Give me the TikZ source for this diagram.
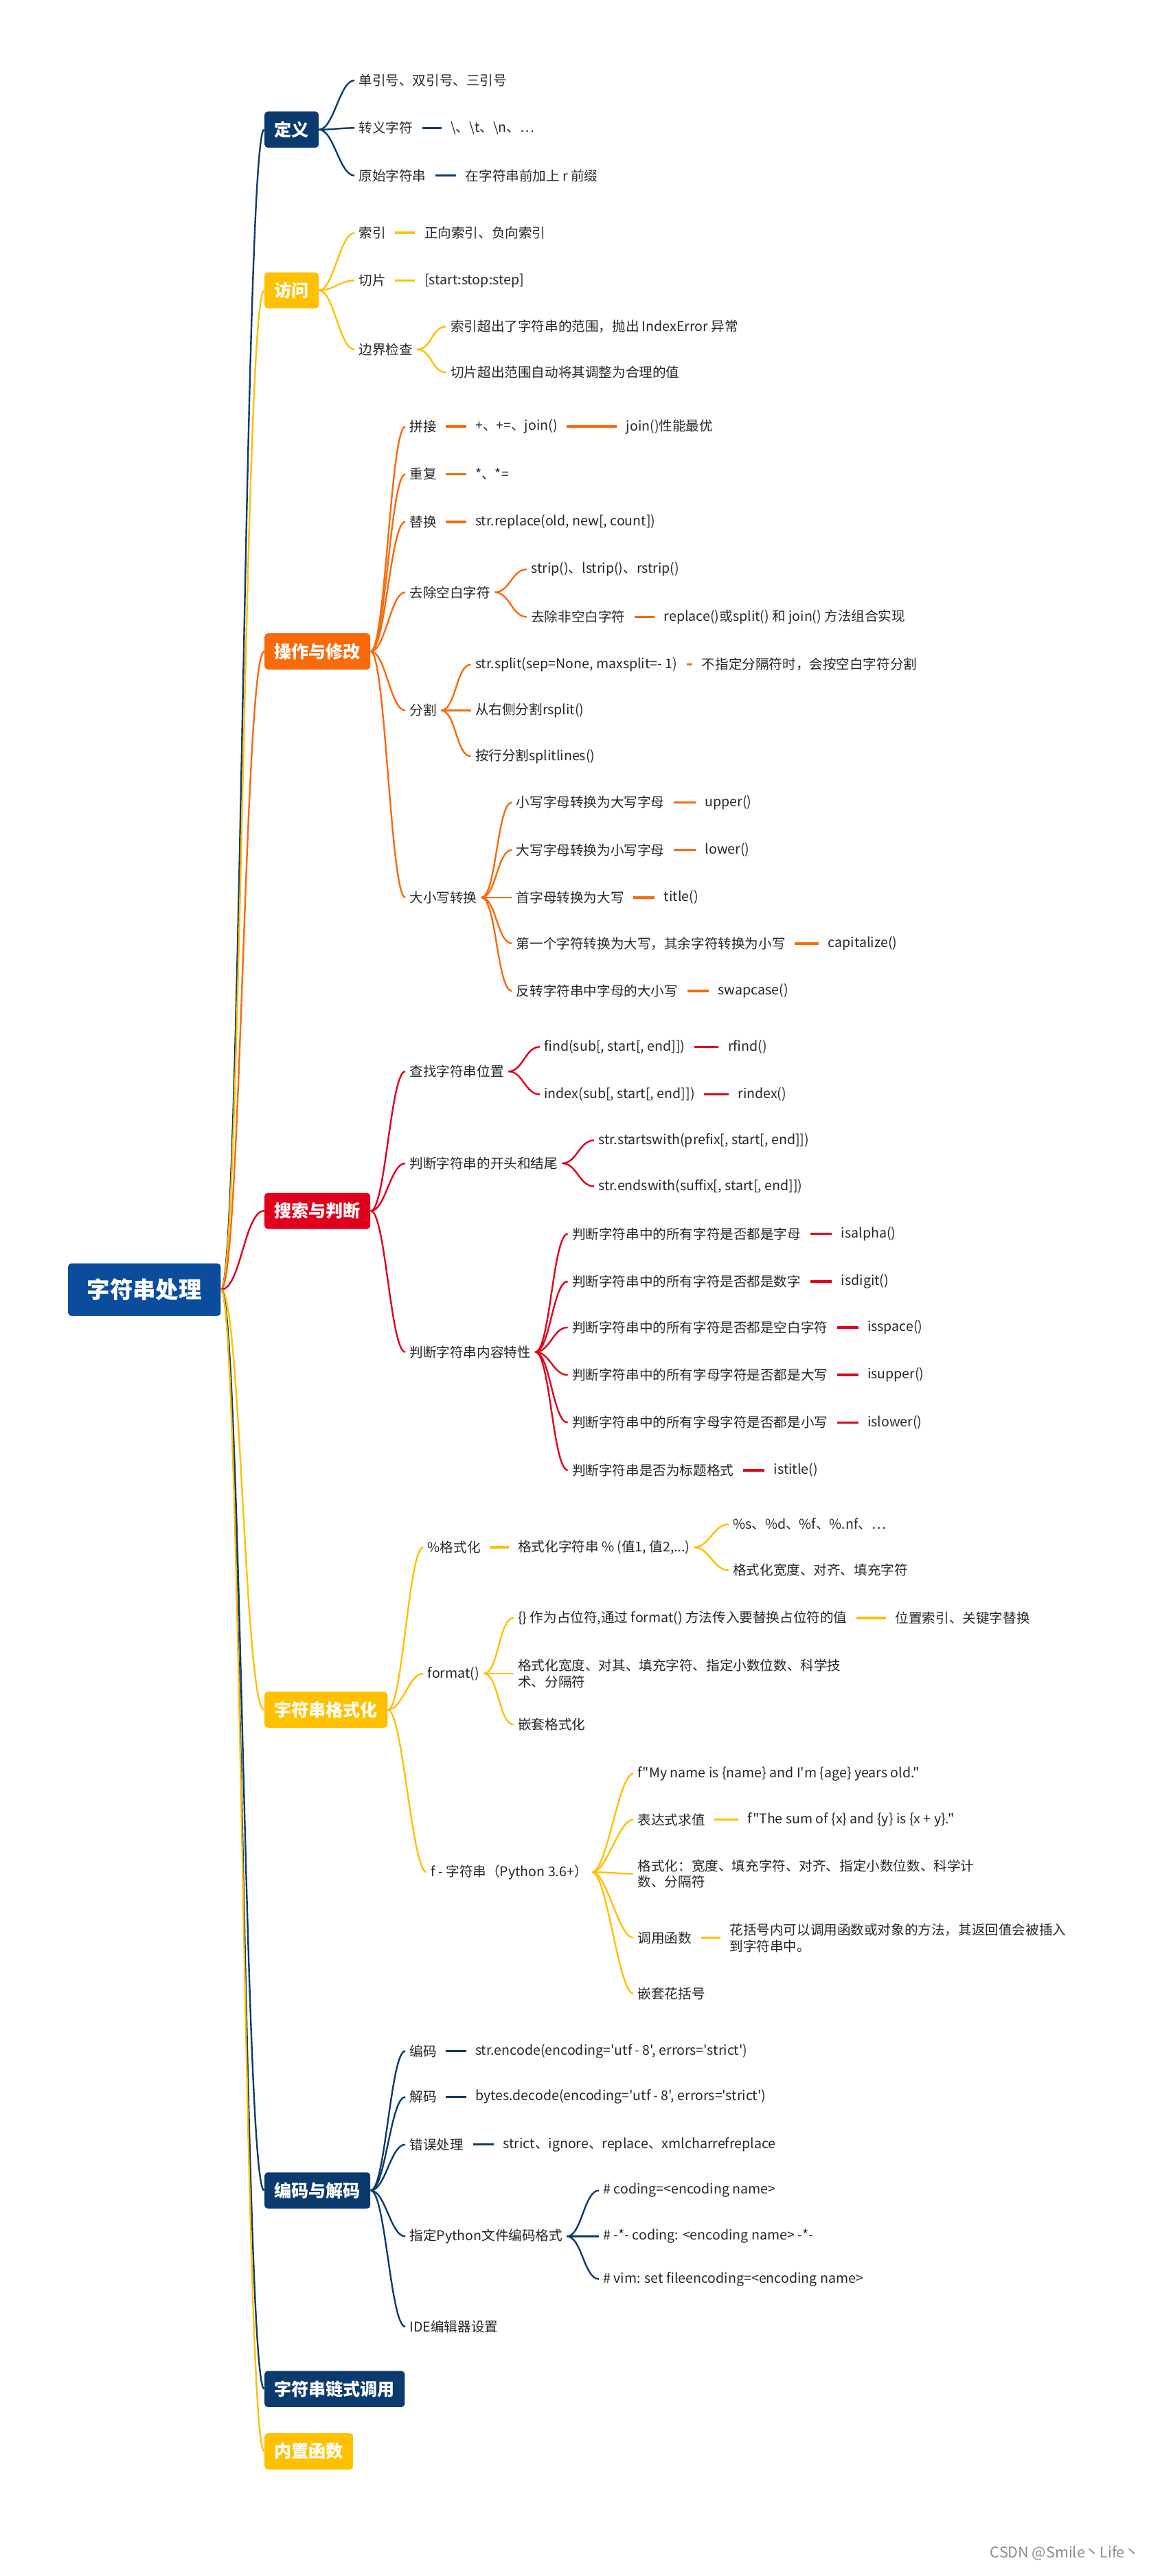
\documentclass[tikz,border=0pt]{standalone}
\usepackage{fontspec}
\setmainfont{Noto Sans CJK SC}[Ligatures=TeXOff]
\begin{document}
\begin{tikzpicture}[x=1pt,y=1pt,
  lf/.style={anchor=west,inner xsep=2.5pt,inner ysep=1pt,font=\fontsize{8.2}{10}\selectfont,text=black!85,align=left},
  bx/.style={anchor=west,rounded corners=2pt,minimum height=22pt,inner xsep=6pt,font=\fontsize{10.5}{12}\selectfont\bfseries,text=white},
  cn/.style={line width=1pt},
  sl/.style={line width=1.5pt}]
\definecolor{cnavy}{HTML}{0B3A6E}
\definecolor{cyel}{HTML}{FFC000}
\definecolor{corg}{HTML}{F96A0B}
\definecolor{cred}{HTML}{E0001B}
\definecolor{croot}{HTML}{0B4C9C}
\newcommand\mn[4]{\node[lf] (#1) at (#2,-#3) {#4};}
\newcommand\cnx[3]{\draw[cn,#1] (#2.east) .. controls +(9,0) and +(-9,0) .. (#3.west);}
\newcommand\sln[3]{\draw[sl,#1] ([xshift=3pt]#2.east) -- ([xshift=-3pt]#3.west);}
\useasboundingbox (0,0) rectangle (700,-1570);
\node[fill=croot,rounded corners=2pt,minimum width=93pt,minimum height=32pt,text=white,font=\fontsize{14}{16}\selectfont\bfseries] (root) at (88,-786) {字符串处理};
\node[bx,fill=cnavy] (b1) at (161,-79) {定义};
\node[bx,fill=cyel] (b2) at (161,-177) {访问};
\node[bx,fill=corg] (b3) at (161,-397) {操作与修改};
\node[bx,fill=cred] (b4) at (161,-738) {搜索与判断};
\node[bx,fill=cyel] (b5) at (161,-1042) {字符串格式化};
\node[bx,fill=cnavy] (b6) at (161,-1335) {编码与解码};
\node[bx,fill=cnavy] (b7) at (161,-1456) {字符串链式调用};
\node[bx,fill=cyel] (b8) at (161,-1494) {内置函数};
\foreach \b/\c in {b1/cnavy,b2/cyel,b3/corg,b4/cred,b5/cyel,b6/cnavy,b7/cnavy,b8/cyel}
  \draw[cn,\c] (root.east) .. controls +(12,0) and +(-12,0) .. (\b.west);
% 定义
\mn{a1}{216}{49}{单引号、双引号、三引号}
\mn{a2}{216}{78}{转义字符}
\mn{a2a}{272}{78}{\textbackslash、\textbackslash t、\textbackslash n、…}
\mn{a3}{216}{107}{原始字符串}
\mn{a3a}{281}{107}{在字符串前加上 r 前缀}
\foreach \n in {a1,a2,a3} {\cnx{cnavy}{b1}{\n}}
\sln{cnavy}{a2}{a2a}\sln{cnavy}{a3}{a3a}
% 访问
\mn{c1}{216}{142}{索引}
\mn{c1a}{256}{142}{正向索引、负向索引}
\mn{c2}{216}{171}{切片}
\mn{c2a}{256}{171}{[start:stop:step]}
\mn{c3}{216}{213}{边界检查}
\mn{c3a}{272}{199}{索引超出了字符串的范围，抛出 IndexError 异常}
\mn{c3b}{272}{227}{切片超出范围自动将其调整为合理的值}
\foreach \n in {c1,c2,c3} {\cnx{cyel}{b2}{\n}}
\sln{cyel}{c1}{c1a}\sln{cyel}{c2}{c2a}
\cnx{cyel}{c3}{c3a}\cnx{cyel}{c3}{c3b}
% 操作与修改
\mn{d1}{247}{260}{拼接}
\mn{d1a}{287}{260}{+、+=、join()}
\mn{d1b}{379}{260}{join()性能最优}
\mn{d2}{247}{289}{重复}
\mn{d2a}{287}{289}{*、*=}
\mn{d3}{247}{318}{替换}
\mn{d3a}{287}{318}{str.replace(old, new[, count])}
\mn{d4}{247}{361}{去除空白字符}
\mn{d4a}{321}{347}{strip()、lstrip()、rstrip()}
\mn{d4b}{321}{376}{去除非空白字符}
\mn{d4c}{402}{376}{replace()或split() 和 join() 方法组合实现}
\mn{d5}{247}{433}{分割}
\mn{d5a}{287}{405}{str.split(sep=None, maxsplit=- 1)}
\mn{d5b}{425}{405}{不指定分隔符时，会按空白字符分割}
\mn{d5c}{287}{433}{从右侧分割rsplit()}
\mn{d5d}{287}{461}{按行分割splitlines()}
\mn{d6}{247}{547}{大小写转换}
\mn{d6a}{312}{489}{小写字母转换为大写字母}
\mn{d6ax}{427}{489}{upper()}
\mn{d6b}{312}{518}{大写字母转换为小写字母}
\mn{d6bx}{427}{518}{lower()}
\mn{d6c}{312}{547}{首字母转换为大写}
\mn{d6cx}{402}{547}{title()}
\mn{d6d}{312}{575}{第一个字符转换为大写，其余字符转换为小写}
\mn{d6dx}{502}{575}{capitalize()}
\mn{d6e}{312}{604}{反转字符串中字母的大小写}
\mn{d6ex}{435}{604}{swapcase()}
\foreach \n in {d1,d2,d3,d4,d5,d6} {\cnx{corg}{b3}{\n}}
\sln{corg}{d1}{d1a}\sln{corg}{d1a}{d1b}\sln{corg}{d2}{d2a}\sln{corg}{d3}{d3a}
\cnx{corg}{d4}{d4a}\cnx{corg}{d4}{d4b}\sln{corg}{d4b}{d4c}
\cnx{corg}{d5}{d5a}\cnx{corg}{d5}{d5c}\cnx{corg}{d5}{d5d}\sln{corg}{d5a}{d5b}
\foreach \n in {a,b,c,d,e} {\cnx{corg}{d6}{d6\n}\sln{corg}{d6\n}{d6\n x}}
% 搜索与判断
\mn{e1}{247}{653}{查找字符串位置}
\mn{e1a}{329}{638}{find(sub[, start[, end]])}
\mn{e1ax}{441}{638}{rfind()}
\mn{e1b}{329}{667}{index(sub[, start[, end]])}
\mn{e1bx}{447}{667}{rindex()}
\mn{e2}{247}{709}{判断字符串的开头和结尾}
\mn{e2a}{362}{695}{str.startswith(prefix[, start[, end]])}
\mn{e2b}{362}{723}{str.endswith(suffix[, start[, end]])}
\mn{e3}{247}{824}{判断字符串内容特性}
\mn{e3a}{346}{752}{判断字符串中的所有字符是否都是字母}
\mn{e3ax}{510}{752}{isalpha()}
\mn{e3b}{346}{781}{判断字符串中的所有字符是否都是数字}
\mn{e3bx}{510}{781}{isdigit()}
\mn{e3c}{346}{809}{判断字符串中的所有字符是否都是空白字符}
\mn{e3cx}{526}{809}{isspace()}
\mn{e3d}{346}{838}{判断字符串中的所有字母字符是否都是大写}
\mn{e3dx}{526}{838}{isupper()}
\mn{e3e}{346}{867}{判断字符串中的所有字母字符是否都是小写}
\mn{e3ex}{526}{867}{islower()}
\mn{e3f}{346}{896}{判断字符串是否为标题格式}
\mn{e3fx}{469}{896}{istitle()}
\foreach \n in {e1,e2,e3} {\cnx{cred}{b4}{\n}}
\foreach \n in {a,b} {\cnx{cred}{e1}{e1\n}\sln{cred}{e1\n}{e1\n x}\cnx{cred}{e2}{e2\n}}
\foreach \n in {a,b,c,d,e,f} {\cnx{cred}{e3}{e3\n}\sln{cred}{e3\n}{e3\n x}}
% 字符串格式化
\mn{f1}{258}{943}{\%格式化}
\mn{f1a}{313}{943}{格式化字符串 \% (值1, 值2,...)}
\mn{f1b}{444}{929}{\%s、\%d、\%f、\%.nf、…}
\mn{f1c}{444}{957}{格式化宽度、对齐、填充字符}
\mn{f2}{258}{1020}{format()}
\mn{f2a}{313}{986}{\{\} 作为占位符,通过 format() 方法传入要替换占位符的值}
\mn{f2ax}{543}{986}{位置索引、关键字替换}
\mn{f2b}{313}{1020}{格式化宽度、对其、填充字符、指定小数位数、科学技\\术、分隔符}
\mn{f2c}{313}{1051}{嵌套格式化}
\mn{f3}{260}{1141}{f - 字符串（Python 3.6+）}
\mn{f3a}{386}{1081}{f"My name is \{name\} and I'm \{age\} years old."}
\mn{f3b}{386}{1109}{表达式求值}
\mn{f3bx}{453}{1109}{f"The sum of \{x\} and \{y\} is \{x + y\}."}
\mn{f3c}{386}{1142}{格式化：宽度、填充字符、对齐、指定小数位数、科学计\\数、分隔符}
\mn{f3d}{386}{1181}{调用函数}
\mn{f3dx}{442}{1181}{花括号内可以调用函数或对象的方法，其返回值会被插入\\到字符串中。}
\mn{f3e}{386}{1215}{嵌套花括号}
\foreach \n in {f1,f2,f3} {\cnx{cyel}{b5}{\n}}
\sln{cyel}{f1}{f1a}\cnx{cyel}{f1a}{f1b}\cnx{cyel}{f1a}{f1c}
\foreach \n in {a,b,c} {\cnx{cyel}{f2}{f2\n}}
\sln{cyel}{f2a}{f2ax}
\foreach \n in {a,b,c,d,e} {\cnx{cyel}{f3}{f3\n}}
\sln{cyel}{f3b}{f3bx}\sln{cyel}{f3d}{f3dx}
% 编码与解码
\mn{g1}{247}{1250}{编码}
\mn{g1a}{287}{1250}{str.encode(encoding='utf - 8', errors='strict')}
\mn{g2}{247}{1278}{解码}
\mn{g2a}{287}{1278}{bytes.decode(encoding='utf - 8', errors='strict')}
\mn{g3}{247}{1307}{错误处理}
\mn{g3a}{304}{1307}{strict、ignore、replace、xmlcharrefreplace}
\mn{g4}{247}{1363}{指定Python文件编码格式}
\mn{g4a}{365}{1335}{\# coding=<encoding name>}
\mn{g4b}{365}{1363}{\# -*- coding: <encoding name> -*-}
\mn{g4c}{365}{1389}{\# vim: set fileencoding=<encoding name>}
\mn{g5}{247}{1418}{IDE编辑器设置}
\foreach \n in {g1,g2,g3,g4,g5} {\cnx{cnavy}{b6}{\n}}
\sln{cnavy}{g1}{g1a}\sln{cnavy}{g2}{g2a}\sln{cnavy}{g3}{g3a}
\foreach \n in {a,b,c} {\cnx{cnavy}{g4}{g4\n}}
\node[anchor=east,text=black!45,font=\fontsize{9}{10}\selectfont] (wm) at (698,-1556) {CSDN @Smile丶Life丶};
\end{tikzpicture}
\end{document}
